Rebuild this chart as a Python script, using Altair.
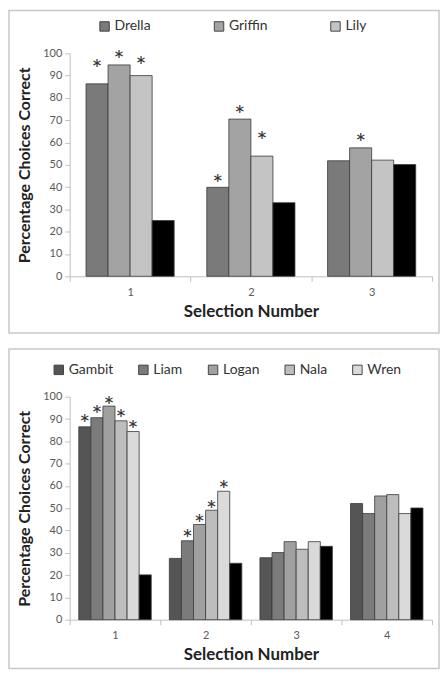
import altair as alt
import pandas as pd

# ---------------- data ----------------
top_selections = ["1", "2", "3"]
top_series = ["Drella", "Griffin", "Lily", "Chance"]
top_named = ["Drella", "Griffin", "Lily"]
top_drella = [86.3, 39.9, 51.8]
top_griffin = [94.8, 70.5, 57.6]
top_lily = [90.0, 53.9, 52.1]
top_chance = [25.0, 33.0, 50.1]
# level (in %) at which each asterisk sits; None = no asterisk
top_star_drella = [95.0, 43.8, None]
top_star_griffin = [99.0, 74.5, 62.0]
top_star_lily = [96.4, 63.0, None]
top_star_chance = [None, None, None]
top_colors = ["#7a7a7a", "#a3a3a3", "#c4c4c4", "#000000"]

bot_selections = ["1", "2", "3", "4"]
bot_series = ["Gambit", "Liam", "Logan", "Nala", "Wren", "Chance"]
bot_named = ["Gambit", "Liam", "Logan", "Nala", "Wren"]
bot_gambit = [86.5, 27.5, 27.8, 52.1]
bot_liam = [90.6, 35.4, 30.1, 47.6]
bot_logan = [95.8, 42.7, 35.0, 55.5]
bot_nala = [89.2, 49.1, 31.6, 56.1]
bot_wren = [84.4, 57.6, 35.0, 47.6]
bot_chance = [20.1, 25.3, 32.9, 50.1]
bot_star_gambit = [90.2, None, None, None]
bot_star_liam = [93.8, 38.4, None, None]
bot_star_logan = [98.2, 45.0, None, None]
bot_star_nala = [92.4, 51.3, None, None]
bot_star_wren = [87.5, 60.3, None, None]
bot_star_chance = [None, None, None, None]
bot_colors = ["#555555", "#7b7b7b", "#a0a0a0", "#bdbdbd", "#dadada", "#000000"]

y_ticks = list(range(0, 101, 10))

FONT = "Lato"


def build_df(selections, series, values, stars):
    rows = []
    for s, vals, st in zip(series, values, stars):
        for sel, v, lv in zip(selections, vals, st):
            rows.append({"selection": sel, "series": s, "value": v, "star": lv})
    return pd.DataFrame(rows)


def panel(selections, series, named, values, stars, colors, off_pad,
          width, height, legend_x, col_pad, box):
    df = build_df(selections, series, values, stars)
    xscale = alt.Scale(domain=selections, paddingInner=0, paddingOuter=0)
    xoscale = alt.Scale(domain=series, paddingInner=0, paddingOuter=off_pad)
    yscale = alt.Scale(domain=[0, 100], nice=False)
    xaxis = alt.Axis(title="Selection Number", labelAngle=0,
                     tickBand="extent", tickSize=5, labelPadding=5,
                     titlePadding=6)
    yaxis = alt.Axis(values=y_ticks, title="Percentage Choices Correct",
                     grid=False, tickSize=5, labelPadding=3,
                     labelOverlap=False, titlePadding=10)
    x = alt.X("selection:N", sort=selections, scale=xscale, axis=xaxis)
    xo = alt.XOffset("series:N", sort=series, scale=xoscale)
    bars = alt.Chart(df).mark_bar(stroke="#3a3a3a", strokeWidth=0.8).encode(
        x=x, xOffset=xo,
        y=alt.Y("value:Q", scale=yscale, axis=yaxis),
        color=alt.Color("series:N",
                        scale=alt.Scale(domain=series, range=colors),
                        legend=alt.Legend(values=named, orient="none",
                                          legendX=legend_x, legendY=-34,
                                          direction="horizontal",
                                          columns=len(named), title=None,
                                          symbolType="square", symbolSize=90,
                                          symbolStrokeColor="#444444",
                                          symbolStrokeWidth=1,
                                          labelFontSize=14, labelColor="#333333",
                                          labelFont=FONT, labelOffset=3,
                                          columnPadding=col_pad, padding=0)),
    )
    star_df = df.dropna(subset=["star"])
    stars_layer = alt.Chart(star_df).mark_text(
        text="*", fontSize=26, baseline="middle", dy=6, fill="#333333", font=FONT
    ).encode(
        x=x, xOffset=xo,
        y=alt.Y("star:Q", scale=yscale, axis=yaxis),
    )
    border = alt.Chart(pd.DataFrame({"k": [0]})).mark_rect(
        fill="transparent", stroke="#c8c8c8", strokeWidth=1.5
    ).encode(
        x=alt.value(box[0]), x2=alt.value(box[1]),
        y=alt.value(box[2]), y2=alt.value(box[3]),
    )
    return alt.layer(border, bars, stars_layer).properties(width=width, height=height)


top = panel(top_selections, top_series, top_named,
            [top_drella, top_griffin, top_lily, top_chance],
            [top_star_drella, top_star_griffin, top_star_lily, top_star_chance],
            top_colors, 0.74, 364, 224, 28, 61, (-61, 371, -43, 281))

bottom = panel(bot_selections, bot_series, bot_named,
               [bot_gambit, bot_liam, bot_logan, bot_nala, bot_wren, bot_chance],
               [bot_star_gambit, bot_star_liam, bot_star_logan, bot_star_nala,
                bot_star_wren, bot_star_chance],
               bot_colors, 0.75, 364, 224, -18, 23, (-61, 371, -48, 273))

chart = alt.vconcat(top, bottom, spacing=14).resolve_scale(
    x="independent", xOffset="independent", y="independent", color="independent"
).resolve_legend(color="independent").properties(
    padding=0, background="white"
).configure_view(stroke=None).configure_axis(
    domainColor="#bfbfbf", tickColor="#bfbfbf",
    labelColor="#595959", labelFontSize=11, labelFont=FONT,
    titleFont=FONT, titleFontSize=17, titleFontWeight="bold", titleColor="#222222",
).configure_axisY(titleFontSize=16)

chart.save("out.html", embed_options={"renderer": "svg", "actions": False})
